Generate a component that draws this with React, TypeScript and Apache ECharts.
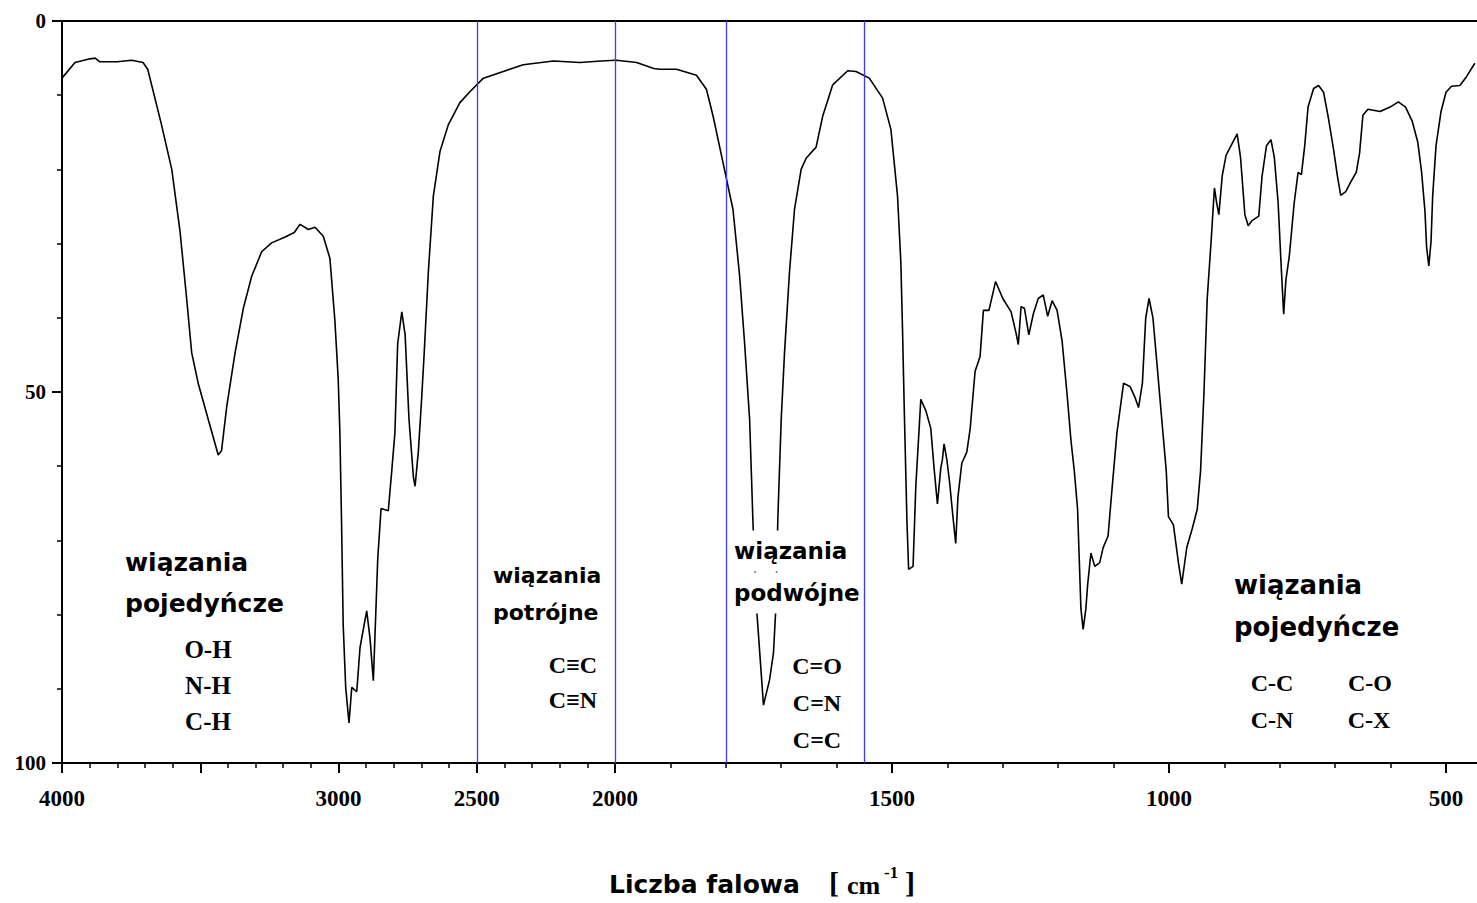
import React, { useEffect, useRef } from "react";
import * as echarts from "echarts";

// IR spectrum, high wavenumber part (4000 -> 2000 cm-1): [wavenumber, value]
const spectrumHigh: number[][] = [
  [4000, 7.7], [3953, 5.6], [3899, 5.1], [3880, 5.0], [3863, 5.5], [3800, 5.5], [3748, 5.3],
  [3707, 5.6], [3690, 6.5], [3676, 8.6], [3640, 14], [3603, 20], [3573, 28.4], [3549, 37.5],
  [3531, 44.7], [3507, 48.9], [3471, 53.7], [3435, 58.5], [3423, 57.9], [3404, 51.9],
  [3374, 44.7], [3344, 38.7], [3314, 34.4], [3278, 31.1], [3242, 29.9], [3193, 29.1],
  [3160, 28.5], [3139, 27.4], [3109, 28.1], [3085, 27.8], [3055, 29], [3031, 32], [3013, 40.4],
  [3001, 48.3], [2995, 55.5], [2989, 67.5], [2983, 81.4], [2974, 89.8], [2962, 94.6],
  [2952, 89.8], [2934, 90.4], [2922, 84.4], [2898, 79.5], [2886, 83.2], [2874, 88.9],
  [2866, 80.7], [2858, 72.4], [2846, 65.7], [2820, 66], [2808, 60.9], [2796, 55.5],
  [2786, 43.5], [2771, 39.2], [2759, 42.3], [2745, 53.7], [2729, 61.5], [2723, 62.7],
  [2711, 57.9], [2699, 50.7], [2690, 44.7], [2675, 33.8], [2657, 23.6], [2633, 17.6],
  [2603, 14], [2561, 11], [2524, 9.5], [2476, 7.7], [2404, 6.8], [2332, 5.9], [2223, 5.4],
  [2127, 5.6], [2050, 5.4], [2000, 5.3],
];

// IR spectrum, low wavenumber part (2000 -> 448 cm-1)
const spectrumLow: number[][] = [
  [2000, 5.3], [1997, 5.3], [1961, 5.6], [1930, 6.4], [1919, 6.5], [1889, 6.5], [1853, 7.3],
  [1835, 9.2], [1823, 12.8], [1811, 17], [1799, 21.2], [1787, 25.4], [1775, 34.4], [1766, 43.5],
  [1757, 53.7], [1751, 67.5], [1744, 79.6], [1732, 92.2], [1721, 88.8], [1714, 85.2],
  [1710, 79.6], [1706, 66.9], [1700, 53.7], [1694, 44.7], [1685, 33.8], [1676, 25.4],
  [1664, 20], [1655, 18.5], [1637, 17], [1625, 12.8], [1607, 8.6], [1580, 6.7], [1565, 6.8],
  [1541, 7.7], [1517, 10.4], [1502, 14.6], [1490, 23.6], [1484, 32.6], [1481, 41.6],
  [1478, 51.9], [1473, 67.5], [1470, 73.9], [1462, 73.5], [1457, 62.7], [1448, 51],
  [1439, 52.5], [1430, 54.9], [1424, 60.3], [1418, 65.1], [1412, 60.3], [1409, 59.1],
  [1406, 57], [1401, 59.1], [1396, 62.2], [1390, 66.8], [1385, 70.4], [1381, 64.2],
  [1374, 59.6], [1365, 58.1], [1359, 55], [1350, 47.2], [1341, 45.2], [1335, 39], [1325, 39],
  [1313, 35.1], [1300, 37.4], [1285, 39.2], [1276, 42.1], [1272, 43.6], [1267, 38.5],
  [1261, 38.7], [1253, 42.3], [1245, 39.5], [1236, 37.4], [1227, 36.9], [1219, 39.8],
  [1211, 37.7], [1202, 39], [1193, 43.1], [1184, 50.3], [1177, 56.5], [1171, 60.6],
  [1165, 65.8], [1162, 72.5], [1159, 79.2], [1155, 82], [1150, 79.2], [1147, 76.1],
  [1141, 71.7], [1134, 73.5], [1125, 73], [1119, 71], [1110, 69.4], [1103, 63.2], [1094, 55.5],
  [1082, 48.8], [1070, 49.3], [1061, 50.8], [1055, 52.1], [1048, 48.8], [1042, 40],
  [1036, 37.4], [1029, 40], [1023, 45.1], [1014, 52.9], [1005, 60.6], [1001, 66.8],
  [992, 67.9], [983, 73], [977, 75.9], [968, 71], [958, 68.4], [949, 65.8], [943, 60.6],
  [937, 50.3], [931, 37.4], [924, 29.7], [918, 22.5], [914, 24.5], [910, 26.1], [904, 20.9],
  [897, 18.1], [888, 16.8], [877, 15.2], [871, 18.3], [863, 26.1], [857, 27.6], [850, 26.9],
  [838, 26.3], [832, 20.9], [824, 16.8], [816, 16], [810, 18.3], [803, 24.5], [798, 32.3],
  [793, 39.5], [789, 34.9], [783, 31.8], [774, 24.5], [767, 20.4], [761, 20.7], [755, 16.8],
  [749, 11.6], [739, 9.1], [730, 8.7], [721, 9.6], [712, 13.2], [703, 17.3], [696, 20.9],
  [690, 23.5], [681, 23], [672, 21.7], [662, 20.4], [656, 17.8], [650, 12.7], [641, 11.9],
  [619, 12.2], [601, 11.6], [586, 10.9], [573, 11.6], [561, 13.5], [551, 16.3], [544, 20.4],
  [538, 25.6], [535, 30.5], [531, 33], [527, 29.7], [524, 23.5], [518, 16.8], [509, 12.2],
  [500, 9.6], [490, 8.8], [475, 8.7], [463, 7.5], [448, 5.7],
];

// region boundaries (blue lines), cm-1
const boundariesHigh = [2500, 2000];
const boundariesLow = [1800, 1550];

const hiddenHighLabels = [3500];
const hiddenLowLabels = [2000, 0];

const SANS = '"DejaVu Sans", sans-serif';
const SERIF = '"Liberation Serif", "Times New Roman", serif';

function txt(
  text: string,
  x: number,
  y: number,
  size: number,
  font: string,
  align = "left",
  masked = false
) {
  const style: any = {
    text,
    fill: "#000",
    font: `bold ${size}px ${font}`,
    textAlign: align,
    textVerticalAlign: "middle",
  };
  if (masked) {
    style.backgroundColor = "#fff";
    style.padding = [9, 1, 9, 1];
  }
  return { type: "text", x, y, z: 100, silent: true, style };
}

export default function App() {
  const ref = useRef<HTMLDivElement>(null);
  useEffect(() => {
    if (!ref.current) return;
    const chart = echarts.init(ref.current, undefined, { renderer: "svg" });
    const axisLineStyle = { color: "#000", width: 2 };
    const labelStyle = { fontFamily: SERIF, fontWeight: "bold" as const, color: "#000" };
    const bottomAxis = (grid: number, min: number, max: number, hidden: number[]) => ({
      gridIndex: grid,
      type: "value",
      min,
      max,
      interval: 500,
      inverse: true,
      position: "bottom",
      axisLine: { show: true, onZero: false, lineStyle: axisLineStyle },
      axisTick: { show: true, length: 10, lineStyle: { color: "#000", width: 2 } },
      minorTick: { show: true, splitNumber: 5, length: 5, lineStyle: { color: "#000", width: 1.5 } },
      splitLine: { show: false },
      minorSplitLine: { show: false },
      axisLabel: {
        ...labelStyle,
        fontSize: 23,
        margin: 24,
        showMinLabel: true,
        showMaxLabel: true,
        formatter: (v: number) => (hidden.indexOf(v) >= 0 ? "" : String(v)),
      },
    });
    const topAxis = (grid: number, min: number, max: number) => ({
      gridIndex: grid,
      type: "value",
      min,
      max,
      inverse: true,
      position: "top",
      axisLine: { show: true, onZero: false, lineStyle: axisLineStyle },
      axisTick: { show: false },
      axisLabel: { show: false },
      splitLine: { show: false },
    });
    const markLine = (vals: number[]) => ({
      silent: true,
      symbol: "none",
      label: { show: false },
      lineStyle: { color: "#3a3aff", width: 1.3, type: "solid" },
      data: vals.map((v) => ({ xAxis: v })),
    });
    const lineStyle = { color: "#000", width: 1.6 };

    chart.setOption({
      animation: false,
      backgroundColor: "#fff",
      grid: [
        { left: 62, top: 21, width: 553, height: 742, outerBoundsMode: "none", containLabel: false },
        { left: 615, top: 21, width: 1108, height: 742, outerBoundsMode: "none", containLabel: false },
      ],
      xAxis: [
        bottomAxis(0, 2000, 4000, hiddenHighLabels),
        bottomAxis(1, 0, 2000, hiddenLowLabels),
        topAxis(0, 2000, 4000),
        topAxis(1, 0, 2000),
      ],
      yAxis: [
        {
          gridIndex: 0,
          type: "value",
          min: 0,
          max: 100,
          interval: 50,
          inverse: true,
          axisLine: { show: true, onZero: false, lineStyle: axisLineStyle },
          axisTick: { show: true, length: 10, lineStyle: { color: "#000", width: 2 } },
          minorTick: { show: true, splitNumber: 5, length: 5, lineStyle: { color: "#000", width: 1.5 } },
          splitLine: { show: false },
          minorSplitLine: { show: false },
          axisLabel: { ...labelStyle, fontSize: 21, margin: 16 },
        },
        { gridIndex: 1, type: "value", min: 0, max: 100, inverse: true, show: false },
      ],
      series: [
        {
          type: "line",
          xAxisIndex: 0,
          yAxisIndex: 0,
          data: spectrumHigh,
          showSymbol: false,
          lineStyle,
          markLine: markLine(boundariesHigh),
        },
        {
          type: "line",
          xAxisIndex: 1,
          yAxisIndex: 1,
          data: spectrumLow,
          showSymbol: false,
          lineStyle,
          markLine: markLine(boundariesLow),
        },
      ],
      graphic: [
        txt("wiązania", 125, 562, 25, SANS),
        txt("pojedyńcze", 125, 603, 25, SANS),
        txt("O-H", 208, 649, 25, SERIF, "center"),
        txt("N-H", 208, 685, 25, SERIF, "center"),
        txt("C-H", 208, 721, 25, SERIF, "center"),

        txt("wiązania", 493, 575, 22, SANS),
        txt("potrójne", 493, 612, 22, SANS),
        txt("C≡C", 573, 665, 24, SERIF, "center"),
        txt("C≡N", 573, 700, 24, SERIF, "center"),

        txt("wiązania", 733, 551, 23, SANS, "left", true),
        txt("podwójne", 733, 593, 23, SANS, "left", true),
        txt("C=O", 817, 666, 24, SERIF, "center"),
        txt("C=N", 817, 703, 24, SERIF, "center"),
        txt("C=C", 817, 740, 24, SERIF, "center"),

        txt("wiązania", 1234, 585, 26, SANS),
        txt("pojedyńcze", 1234, 627, 26, SANS),
        txt("C-C", 1272, 683, 24, SERIF, "center"),
        txt("C-N", 1272, 720, 24, SERIF, "center"),
        txt("C-O", 1370, 683, 24, SERIF, "center"),
        txt("C-X", 1369, 720, 24, SERIF, "center"),

        txt("Liczba falowa", 609, 884, 25, SANS),
        txt("[", 829, 882, 30, SERIF),
        txt("cm", 847, 885, 26, SERIF),
        txt("-1", 884, 872, 17, SERIF),
        txt("]", 905, 882, 30, SERIF),
      ],
    });
    return () => chart.dispose();
  }, []);
  return (
    <div
      ref={ref}
      style={{ position: "absolute", left: 0, top: 0, width: 1477, height: 903, background: "#fff" }}
    />
  );
}
